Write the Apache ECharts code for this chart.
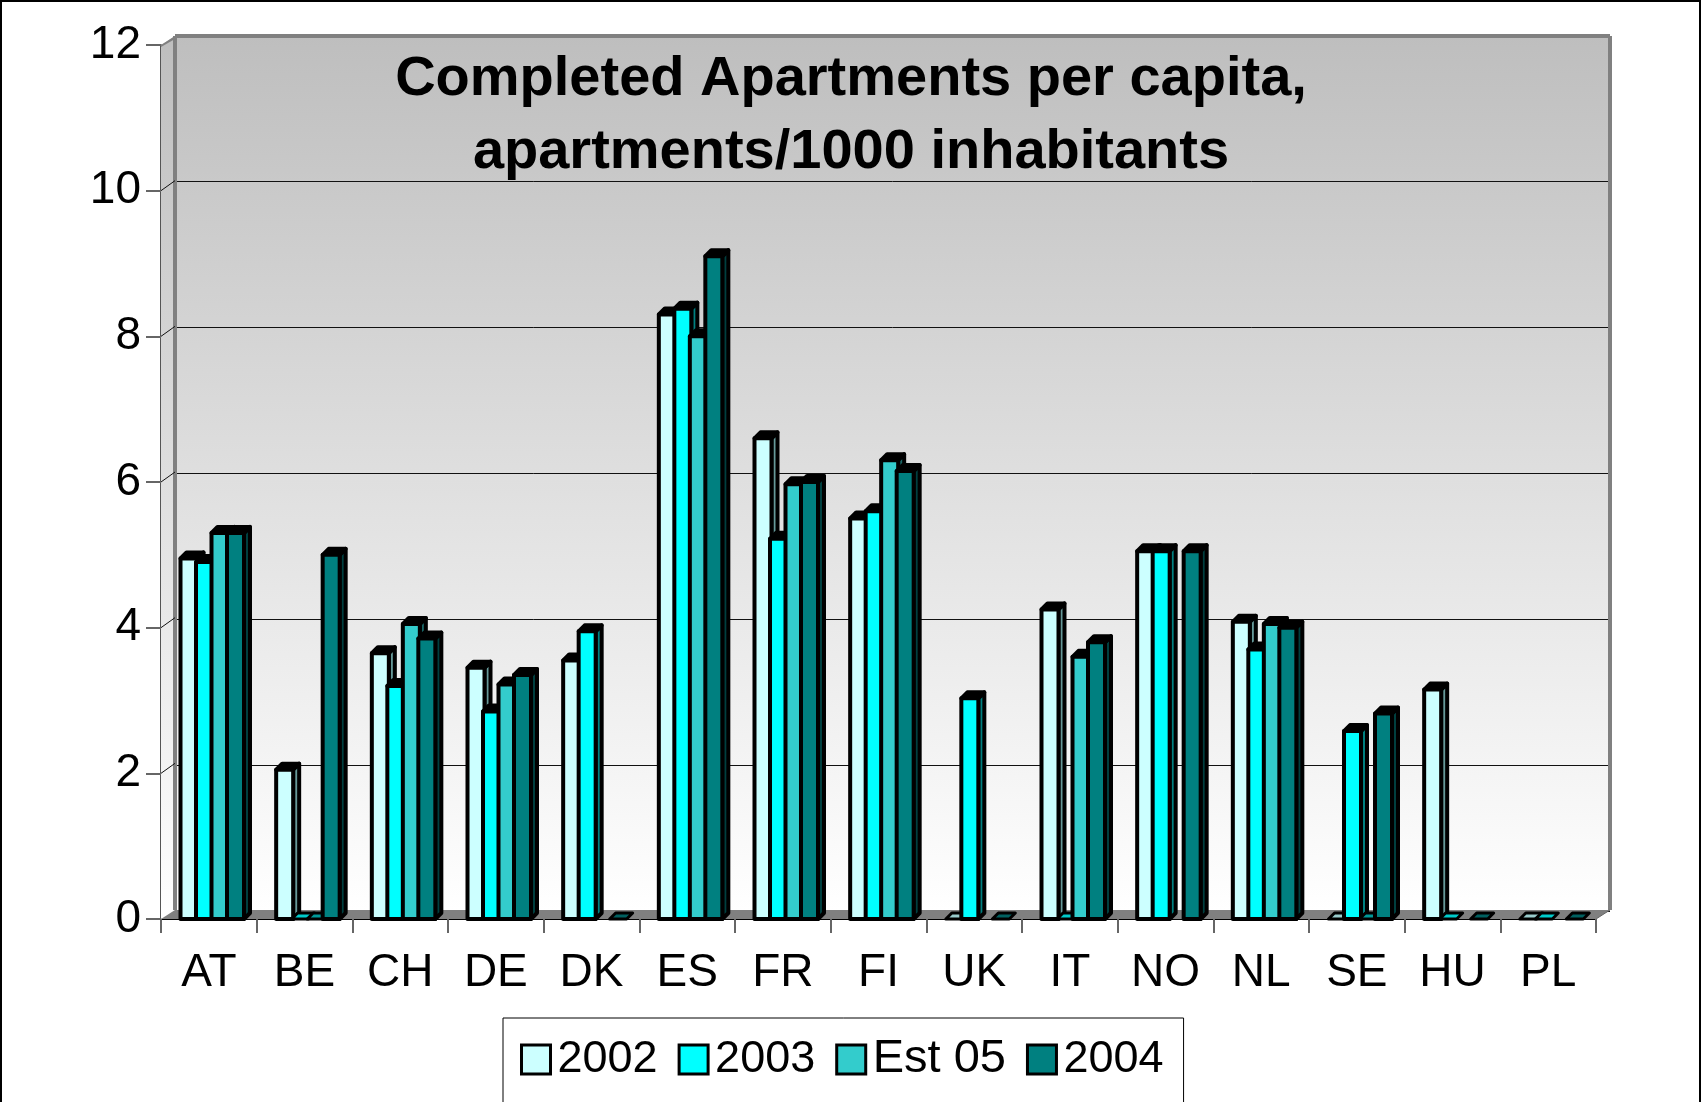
<!DOCTYPE html>
<html>
<head>
<meta charset="utf-8">
<title>Completed Apartments per capita</title>
<script src="https://cdn.jsdelivr.net/npm/echarts@6/dist/echarts.min.js"></script>
<style>
  html, body { margin: 0; padding: 0; background: #fff; overflow: hidden; }
  #chart { width: 1702px; height: 1102px; }
</style>
</head>
<body>
<div id="chart"></div>
<script>
  const countries = ['AT', 'BE', 'CH', 'DE', 'DK', 'ES', 'FR', 'FI', 'UK', 'IT', 'NO', 'NL', 'SE', 'HU', 'PL'];
  const seriesNames = ['2002', '2003', 'Est 05', '2004'];
  const yTicks = [0, 2, 4, 6, 8, 10, 12];
  const values2002 = [4.95, 2.05, 3.65, 3.45, 3.55, 8.3, 6.6, 5.5, 0, 4.25, 5.05, 4.08, 0, 3.15, 0];
  const values2003 = [4.9, 0, 3.2, 2.85, 3.95, 8.38, 5.22, 5.6, 3.03, 0, 5.05, 3.7, 2.58, 0, 0];
  const valuesEst05 = [5.3, 0, 4.05, 3.22, null, 8.0, 5.97, 6.3, null, 3.6, null, 4.05, 0, null, null];
  const values2004 = [5.3, 5.0, 3.85, 3.35, 0, 9.1, 6.0, 6.15, 0, 3.8, 5.05, 4.0, 2.82, 0, 0];

  const frontColors = ['#CCFFFF', '#00FFFF', '#33CCCC', '#008080'];
  const topColors = ['#99CCCC', '#00CCCC', '#009999', '#006060'];
  const sideColors = ['#669999', '#008080', '#1A6666', '#003F3F'];

  const allValues = [values2002, values2003, valuesEst05, values2004];

  // bar placement inside a category band, px
  const barStart = 19.5, barStep = 15.5, barWidth = 17;
  const barDepthX = 6, barDepthY = 6;
  // wall depth, px
  const wallDepthX = 14, wallDepthY = 9;

  function renderBar(seriesIndex) {
    return function (params, api) {
      const val = api.value(1);
      if (val == null || isNaN(val)) return;
      const band = api.size([1, 0])[0];
      const top = api.coord([api.value(0), val]);
      const base = api.coord([api.value(0), 0]);
      const x0 = top[0] - band / 2 + barStart + seriesIndex * barStep;
      const x1 = x0 + barWidth;
      const y0 = top[1], y1 = base[1];
      const dx = barDepthX, dy = barDepthY;
      const stroke = { stroke: '#000', lineWidth: val > 0 ? 4 : 3, lineJoin: 'round' };
      const children = [];
      if (val > 0) {
        children.push({
          type: 'polygon',
          shape: { points: [[x1, y0], [x1 + dx, y0 - dy], [x1 + dx, y1 - dy], [x1, y1]] },
          style: Object.assign({ fill: sideColors[seriesIndex] }, stroke)
        });
      }
      // tops of real bars come out solid black in the reference, only the flat zero bars show colour
      children.push({
        type: 'polygon',
        shape: { points: [[x0, y0], [x0 + dx, y0 - dy], [x1 + dx, y0 - dy], [x1, y0]] },
        style: Object.assign({ fill: val > 0 ? '#000' : topColors[seriesIndex] }, stroke)
      });
      if (val > 0) {
        children.push({
          type: 'rect',
          shape: { x: x0, y: y0, width: barWidth, height: y1 - y0 },
          style: Object.assign({ fill: frontColors[seriesIndex] }, stroke)
        });
      }
      return { type: 'group', children: children };
    };
  }

  // side wall and floor of the 3D box, hung on the front axes
  function renderWalls(params, api) {
    const a = api.coord([0, 0]);
    const band = api.size([1, 0])[0];
    const left = a[0] - band / 2;
    const right = left + band * countries.length;
    const bottom = a[1];
    const topY = api.coord([0, 12])[1];
    const dx = wallDepthX, dy = wallDepthY;
    const children = [
      {
        type: 'polygon',
        shape: { points: [[left, topY], [left + dx, topY - dy], [left + dx, bottom - dy], [left, bottom]] },
        style: {
          fill: new echarts.graphic.LinearGradient(0, 0, 0, 1, [
            { offset: 0, color: '#BEBEBE' }, { offset: 1, color: '#FFFFFF' }
          ])
        }
      },
      {
        type: 'polygon',
        shape: { points: [[left, bottom], [left + dx, bottom - dy], [right + dx, bottom - dy], [right, bottom]] },
        style: { fill: '#808080' }
      },
      {
        type: 'polygon',
        shape: { points: [[left, topY], [left + dx, topY - dy], [left + dx, topY - dy + 3], [left, topY + 2]] },
        style: { fill: '#808080' }
      },
      {
        type: 'line',
        shape: { x1: left + dx, y1: bottom - dy, x2: left + dx, y2: topY - dy },
        style: { stroke: '#808080', lineWidth: 4 }
      },
      {
        type: 'line',
        shape: { x1: left + dx, y1: topY - dy, x2: right + dx, y2: topY - dy },
        style: { stroke: '#808080', lineWidth: 4 }
      },
      {
        type: 'line',
        shape: { x1: right + dx, y1: topY - dy, x2: right + dx, y2: bottom - dy },
        style: { stroke: '#808080', lineWidth: 4 }
      },
      {
        type: 'line',
        shape: { x1: right, y1: bottom, x2: right + dx, y2: bottom - dy },
        style: { stroke: '#666', lineWidth: 1 }
      }
    ];
    // little diagonals that carry the ticks over the side wall
    yTicks.slice(1, -1).forEach(function (t) {
      const y = api.coord([0, t])[1];
      children.push({
        type: 'line',
        shape: { x1: left, y1: y, x2: left + dx, y2: y - dy - 1 },
        style: { stroke: '#111', lineWidth: 1 }
      });
    });
    return { type: 'group', children: children };
  }

  const seriesList = [
    {
      type: 'custom',
      name: 'walls',
      xAxisIndex: 0,
      yAxisIndex: 0,
      silent: true,
      clip: false,
      z: 1,
      renderItem: renderWalls,
      data: [[0, 0]]
    }
  ];
  seriesNames.forEach(function (name, i) {
    seriesList.push({
      type: 'custom',
      name: name,
      xAxisIndex: 0,
      yAxisIndex: 0,
      z: 5 + i,
      clip: false,
      renderItem: renderBar(i),
      encode: { x: 0, y: 1 },
      data: allValues[i].map(function (v, k) { return [k, v]; })
    });
  });

  const myChart = echarts.init(document.getElementById('chart'));
  myChart.setOption({
    animation: false,
    backgroundColor: '#fff',
    textStyle: { fontFamily: '"Liberation Sans", Arial, sans-serif', color: '#000' },
    title: {
      text: 'Completed Apartments per capita,\napartments/1000 inhabitants',
      left: 846,
      top: 38,
      textAlign: 'center',
      z: 20,
      textStyle: {
        fontFamily: '"Liberation Sans", Arial, sans-serif',
        fontSize: 56,
        fontWeight: 'bold',
        lineHeight: 73,
        color: '#000'
      }
    },
    legend: {
      left: 503,
      top: 1018,
      orient: 'horizontal',
      itemWidth: 29,
      itemHeight: 29,
      itemGap: 20,
      padding: [18, 20, 60, 17],
      borderColor: '#000',
      borderWidth: 1,
      backgroundColor: '#fff',
      selectedMode: false,
      icon: 'rect',
      // Est 05 is set wider in the reference
      formatter: function (name) {
        return name === 'Est 05' ? '{wide|' + name + '}' : name;
      },
      textStyle: {
        fontSize: 45, color: '#000', padding: [0, 0, 0, 2],
        rich: { wide: { fontSize: 47, width: 140, color: '#000' } }
      },
      data: seriesNames.map(function (name, i) {
        return { name: name, itemStyle: { color: frontColors[i], borderColor: '#000', borderWidth: 3 } };
      })
    },
    grid: [
      { left: 161, right: 106, top: 45, bottom: 183 },
      {
        left: 175, right: 92, top: 35, bottom: 191, show: true, borderWidth: 0,
        backgroundColor: new echarts.graphic.LinearGradient(0, 0, 0, 1, [
          { offset: 0, color: '#BEBEBE' }, { offset: 1, color: '#FFFFFF' }
        ])
      }
    ],
    xAxis: [
      {
        type: 'category', gridIndex: 0, data: countries, boundaryGap: true,
        axisLine: { show: true, lineStyle: { color: '#000', width: 1 } },
        axisTick: { show: true, alignWithLabel: false, length: 14, lineStyle: { color: '#666', width: 2 } },
        axisLabel: { fontSize: 46, color: '#000', margin: 31, interval: 0 },
        splitLine: { show: false }
      },
      { type: 'category', gridIndex: 1, data: countries, show: false }
    ],
    yAxis: [
      {
        type: 'value', gridIndex: 0, min: 0, max: 12, interval: 2,
        axisLine: { show: true, lineStyle: { color: '#555', width: 2 } },
        axisTick: { show: true, length: 15, lineStyle: { color: '#666', width: 2 } },
        axisLabel: { fontSize: 46, color: '#000', margin: 20, padding: [6, 0, 0, 0] },
        splitLine: { show: false }
      },
      {
        type: 'value', gridIndex: 1, min: 0, max: 12, interval: 2,
        axisLine: { show: false }, axisTick: { show: false }, axisLabel: { show: false },
        splitLine: { show: true, lineStyle: { color: '#111', width: 1 } }
      }
    ],
    graphic: [
      {
        type: 'rect', silent: true, z: -1,
        shape: { x: 1, y: 1, width: 1699, height: 1120 },
        style: { fill: 'none', stroke: '#000', lineWidth: 2 }
      }
    ],
    series: seriesList
  });
</script>
</body>
</html>
